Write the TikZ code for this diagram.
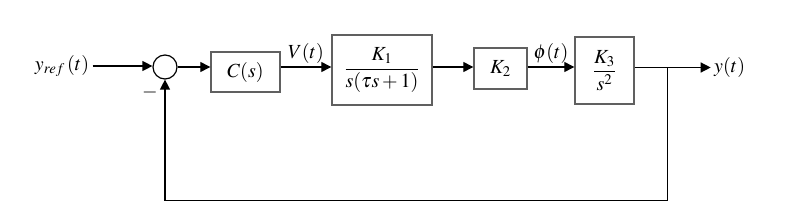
\documentclass[tikz,border=0pt]{standalone}
\usepackage{amsmath}
\usepackage{mathptmx}
\usepackage{tikz}
\usetikzlibrary{arrows.meta, positioning, calc}
\definecolor{cFrame}{RGB}{96,96,96}
\tikzset{
	blk/.style ={rectangle, draw=cFrame, line width=1.4pt, inner sep=0pt, align=center},
	sumj/.style ={circle, draw=black, line width=1.2pt, minimum size=24pt, inner sep=0pt},
	sig/.style ={-{Triangle[length=10pt, width=10pt]}, line width=1.3pt},
}

\begin{document}
\begin{tikzpicture}[x=1pt, y=-1pt, font=\fontsize{20}{24}\selectfont]
	\useasboundingbox (0,0) rectangle (786,217);
	\node[sumj] (s) at (165,67) {};
	\node (r) at (62,66) {$y_{ref}\,(t)$};
	\node[blk, minimum width=69pt, minimum height=40pt] (c) at (245.5,72) {$C(s)$};
	\node[blk, minimum width=100pt, minimum height=70pt] (k1) at (382,70) {$\dfrac{K_1}{s(\tau s+1)}$};
	\node[blk, minimum width=53pt, minimum height=41pt] (k2) at (500.5,68.5) {$K_2$};
	\node[blk, minimum width=59pt, minimum height=67pt] (k3) at (604.5,70.5) {$\dfrac{K_3}{s^2}$};
	\node[right=0pt of k3.east, xshift=76pt, yshift=3pt] (y) {$y(t)$};
	\node (mn) at (150,92) {$-$};
	\draw[sig] (r.east) -- (s.west |- r.east);
	\draw[sig] (s) -- (c.west |- s);
	\draw[sig] (c.east |- s) -- node[above] {$V(t)$} (k1.west |- s);
	\draw[sig] (k1.east |- s) -- (k2.west |- s);
	\draw[sig] (k2.east |- s) -- node[above] {$\phi(t)$} (k3.west |- s);
	\draw[sig] (k3.east |- y) -- coordinate[pos=0.43] (tap) (y.west);
	\draw[sig] (tap) -- ++(0,133) -| (s.south);
\end{tikzpicture}
\end{document}
